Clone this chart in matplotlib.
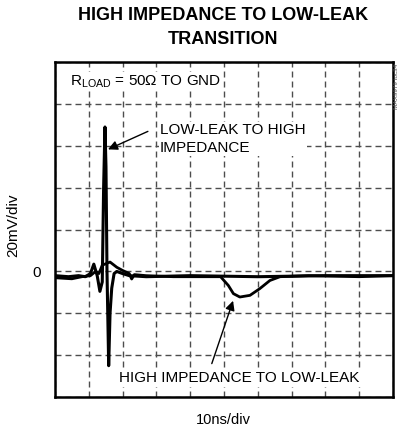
"""
plot.py
---------------------------------------
High impedance to low-leak transition (scope capture)
"""

import matplotlib
matplotlib.use("Agg")
import matplotlib.pyplot as plt

plt.rcParams["font.family"] = ["Liberation Sans", "DejaVu Sans"]
plt.rcParams["mathtext.fontset"] = "custom"
plt.rcParams["mathtext.rm"] = "Liberation Sans"
plt.rcParams["mathtext.default"] = "regular"

########################################################
# data (ns, mV)

t_spike = [0, 4, 7, 9, 10.5, 11.5, 12.5, 13.3, 14.0, 14.4, 14.8,
           15.1, 15.4, 15.9, 16.3, 16.8, 17.5, 18.3, 20, 22, 27,
           40, 60, 80, 100]
v_spike = [-2, -2.5, -2, -2.5, -1, 3.5, -2, -9.5, -5, 40, 69,
           50, 0, -45, -20, -8, -1, 0, -1, -2, -2.5,
           -2, -2.5, -2, -2]

t_dip = [0, 5, 8, 10.5, 12, 13, 14, 16.3, 18.3, 20, 22, 22.7,
         23.5, 27, 35, 49, 51.3, 52.8, 54.7, 57.7, 60.6, 63.6,
         66.6, 75, 90, 100]
v_dip = [-3, -3.5, -2.5, -2, 0, -1, 3, 4.5, 2, 0.5, -1, -3.6,
         -1.5, -2, -2.5, -2.5, -6.7, -10.6, -12.2, -11.4, -8.2, -4.3,
         -2.5, -2, -2.5, -2]

x_ticks = list(range(0, 101, 10))
y_ticks = list(range(-60, 101, 20))

########################################################

fig = plt.figure(figsize=(4.01, 4.34), dpi=100)
ax = fig.add_axes([0.137, 0.085, 0.843, 0.772])

ax.plot(t_dip, v_dip, color="black", lw=2.0, solid_joinstyle="round")
ax.plot(t_spike, v_spike, color="black", lw=2.2, solid_joinstyle="round")

ax.set_xlim(0, 100)
ax.set_ylim(-60, 100)
ax.set_xticks(x_ticks)
ax.set_yticks(y_ticks)
ax.set_xticklabels([])
ax.set_yticklabels(["0" if v == 0 else "" for v in y_ticks], fontsize=11)
ax.tick_params(length=0, pad=10)

ax.grid(True, color="0.3", lw=1.0, ls=(0, (4.3, 2.9)))

for s in ax.spines.values():
    s.set_linewidth(1.8)
    s.set_color("black")

########################################################
# text

box = dict(facecolor="white", edgecolor="none", pad=1.0)

ax.text(4.6, 90.7, r"R$_{LOAD}$ = 50Ω TO GND", fontsize=11,
        ha="left", va="center", bbox=box)

ax.text(31.1, 63.3, "LOW-LEAK TO HIGH\nIMPEDANCE", fontsize=11,
        ha="left", va="center", linespacing=1.3, bbox=box)

ax.text(18.9, -51, "HIGH IMPEDANCE TO LOW-LEAK", fontsize=11,
        ha="left", va="center", bbox=box)

ax.annotate("", xy=(15.7, 58.3), xytext=(27.5, 66.9),
            arrowprops=dict(arrowstyle="-|>", color="black", lw=1.0,
                            mutation_scale=14, shrinkA=0, shrinkB=0))

ax.annotate("", xy=(52.7, -14), xytext=(46.4, -44),
            arrowprops=dict(arrowstyle="-|>", color="black", lw=1.0,
                            mutation_scale=14, shrinkA=0, shrinkB=0))

fig.text(0.557, 0.9654, "HIGH IMPEDANCE TO LOW-LEAK", fontsize=13,
         fontweight="bold", ha="center", va="center")
fig.text(0.557, 0.908, "TRANSITION", fontsize=13,
         fontweight="bold", ha="center", va="center")

fig.text(0.558, 0.032, "10ns/div", fontsize=10.5, ha="center", va="center")
fig.text(0.032, 0.4816, "20mV/div", fontsize=11, rotation=90,
         ha="center", va="center")

fig.text(0.990, 0.80, "MAX9979 toc34", fontsize=4.6, rotation=90,
         ha="center", va="center", color="0.3")

fig.savefig("out.png", dpi=100)
